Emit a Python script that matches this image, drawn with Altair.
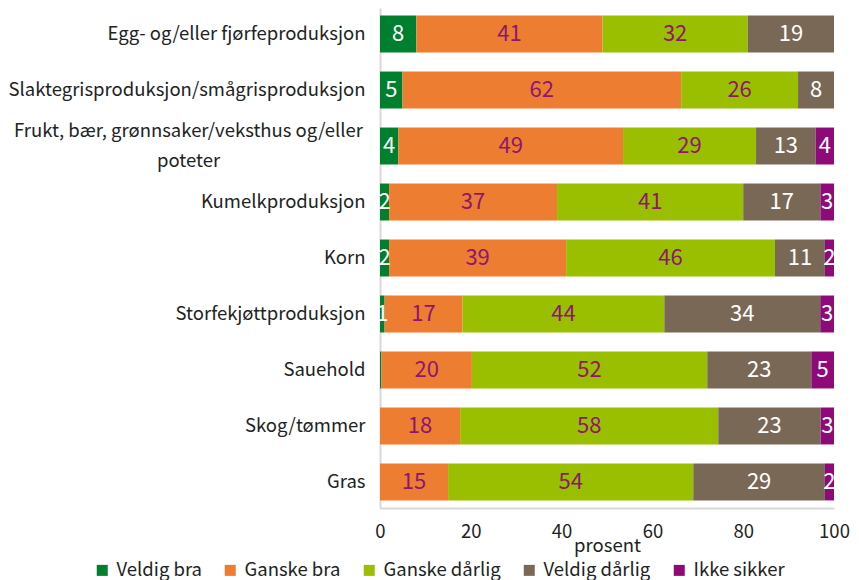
import altair as alt
import pandas as pd

categories = [
    "Egg- og/eller fjørfeproduksjon",
    "Slaktegrisproduksjon/smågrisproduksjon",
    "Frukt, bær, grønnsaker/veksthus og/eller poteter",
    "Kumelkproduksjon",
    "Korn",
    "Storfekjøttproduksjon",
    "Sauehold",
    "Skog/tømmer",
    "Gras",
]
series = ["Veldig bra", "Ganske bra", "Ganske dårlig", "Veldig dårlig", "Ikke sikker"]

veldig_bra = [8, 5, 4, 2, 2, 1, 0.3, 0, 0]
ganske_bra = [41, 62, 49, 37, 39, 17, 20, 18, 15]
ganske_darlig = [32, 26, 29, 41, 46, 44, 52, 58, 54]
veldig_darlig = [19, 8, 13, 17, 11, 34, 23, 23, 29]
ikke_sikker = [0, 0, 4, 3, 2, 3, 5, 3, 2]

bar_colors = ["#007F2F", "#ED7D31", "#9ABF00", "#7A6857", "#8E0A78"]
text_colors = ["#FFFFFF", "#8E1670", "#8E1670", "#FFFFFF", "#FFFFFF"]

FONT = "Noto Sans CJK JP"
INK = "#222222"
FS = 18.5

columns = [veldig_bra, ganske_bra, ganske_darlig, veldig_darlig, ikke_sikker]
rows = []
for i, cat in enumerate(categories):
    for j, s in enumerate(series):
        rows.append({"category": cat, "series": s, "order": j,
                     "value": columns[j][i], "tcolor": text_colors[j]})
df = pd.DataFrame(rows)

frukt = categories[2]
label_expr = (
    f"datum.label == '{frukt}' ? "
    "['Frukt, bær, grønnsaker/veksthus og/eller', 'poteter'] : datum.label"
)
is_frukt = f"datum.label == '{frukt}'"

base = (
    alt.Chart(df)
    .transform_joinaggregate(total="sum(value)", groupby=["category"])
    .transform_calculate(pct="datum.value / datum.total * 100")
    .transform_stack(stack="pct", groupby=["category"],
                     sort=[alt.SortField("order", order="ascending")],
                     as_=["x0", "x1"])
    .transform_calculate(mid="(datum.x0 + datum.x1) / 2",
                         lbl="datum.value >= 0.5 ? format(datum.value, 'd') : ''")
)

y_enc = alt.Y(
    "category:N",
    sort=categories,
    scale=alt.Scale(paddingInner=0.34, paddingOuter=0.135),
    axis=alt.Axis(
        title=None,
        ticks=False,
        domainColor="#D9D9D9",
        domainWidth=2,
        labelFont=FONT,
        labelFontSize=FS,
        labelColor=INK,
        labelLimit=0,
        labelLineHeight=30,
        labelExpr=label_expr,
        labelAlign={"condition": {"test": is_frukt, "value": "center"}, "value": "right"},
        labelPadding={"condition": {"test": is_frukt, "value": 192}, "value": 15},
        labelOffset={"condition": {"test": is_frukt, "value": -15}, "value": 0},
    ),
)

x_scale = alt.Scale(domain=[0, 100], nice=False)

bars = base.mark_bar().encode(
    y=y_enc,
    x=alt.X(
        "x0:Q",
        scale=x_scale,
        axis=alt.Axis(
            title="prosent",
            values=[0, 20, 40, 60, 80, 100],
            grid=False,
            ticks=False,
            labelFlush=False,
            domainColor="#D9D9D9",
            domainWidth=2,
            labelFont=FONT,
            labelFontSize=FS,
            labelColor=INK,
            labelPadding=14,
            titleFont=FONT,
            titleFontSize=FS,
            titleFontWeight="normal",
            titleColor=INK,
            titlePadding=-4,
        ),
    ),
    x2="x1:Q",
    color=alt.Color(
        "series:N",
        sort=series,
        scale=alt.Scale(domain=series, range=bar_colors),
        legend=alt.Legend(
            title=None,
            orient="none",
            direction="horizontal",
            legendX=-287,
            legendY=553,
            symbolType="square",
            symbolSize=121,
            symbolStrokeWidth=0,
            labelFont=FONT,
            labelFontSize=FS,
            labelColor=INK,
            labelOffset=5,
            columnPadding=19,
            padding=0,
        ),
    ),
)

texts = base.mark_text(font=FONT, fontSize=22, baseline="middle", align="center").encode(
    y=alt.Y("category:N", sort=categories),
    x=alt.X("mid:Q", scale=x_scale),
    text="lbl:N",
    color=alt.Color("tcolor:N", scale=None),
)

chart = (
    alt.layer(bars, texts)
    .resolve_scale(color="independent")
    .properties(
        width=454,
        height=500,
        autosize=alt.AutoSizeParams(type="none"),
        padding={"left": 372, "top": 0, "right": 17, "bottom": 82},
    )
    .configure_view(stroke=None)
)

chart.save("out.html", embed_options={"renderer": "svg", "actions": False})
